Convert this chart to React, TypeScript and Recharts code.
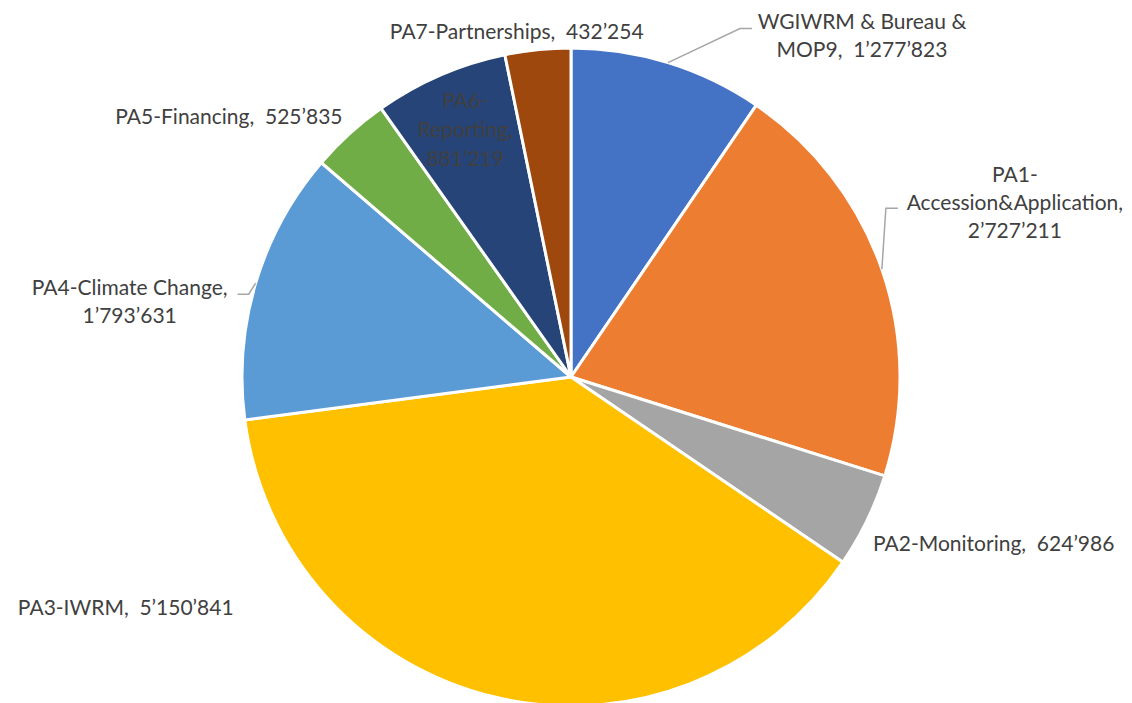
import { PieChart, Pie, Cell } from "recharts";

const categories = [
  "WGIWRM & Bureau & MOP9",
  "PA1-Accession&Application",
  "PA2-Monitoring",
  "PA3-IWRM",
  "PA4-Climate Change",
  "PA5-Financing",
  "PA6-Reporting",
  "PA7-Partnerships",
];
const amounts = [1277823, 2727211, 624986, 5150841, 1793631, 525835, 881219, 432254];
const colors = ["#4472C4", "#ED7D31", "#A5A5A5", "#FFC000", "#5B9BD5", "#70AD47", "#264478", "#9E480E"];

const fmt = (v: number) => String(v).replace(/\B(?=(\d{3})+(?!\d))/g, "\u2019");

// label layout (Excel style), offsets from the slice's outer mid point
type LabelCfg = {
  lines: (v: number) => string[];
  anchor: "start" | "middle" | "end";
  dx: number;
  dy: number[];
  leader?: [number, number][];
};
const labelCfg: LabelCfg[] = [
  { lines: (v) => ["WGIWRM & Bureau &", `MOP9,  ${fmt(v)}`], anchor: "middle", dx: 194, dy: [-42, -14], leader: [[72, -34], [84, -34]] },
  { lines: (v) => ["PA1-", "Accession&Application,", fmt(v)], anchor: "middle", dx: 133, dy: [-96, -68, -40], leader: [[4, -61], [16, -61]] },
  { lines: (v) => [`PA2-Monitoring,  ${fmt(v)}`], anchor: "start", dx: 6, dy: [22] },
  { lines: (v) => [`PA3-IWRM,  ${fmt(v)}`], anchor: "start", dx: -477, dy: [-91] },
  { lines: (v) => ["PA4-Climate Change,", fmt(v)], anchor: "middle", dx: -126, dy: [3, 31], leader: [[-7, 11], [-18, 11]] },
  { lines: (v) => [`PA5-Financing,  ${fmt(v)}`], anchor: "end", dx: -7, dy: [-18] },
  { lines: (v) => ["PA6-", "Reporting,", fmt(v)], anchor: "middle", dx: 25, dy: [24, 53, 82] },
  { lines: (v) => [`PA7-Partnerships,  ${fmt(v)}`], anchor: "middle", dx: -21, dy: [-19] },
];

const data = categories.map((name, i) => ({ name, value: amounts[i] }));

const RADIAN = Math.PI / 180;

const renderLabel = (props: any) => {
  const { cx, cy, midAngle, outerRadius, index, value } = props;
  const ex = cx + outerRadius * Math.cos(-midAngle * RADIAN);
  const ey = cy + outerRadius * Math.sin(-midAngle * RADIAN);
  const cfg = labelCfg[index];
  const lines = cfg.lines(value);
  return (
    <g>
      {cfg.leader && (
        <polyline
          points={[[0, 0], ...cfg.leader].map(([a, b]) => `${ex + a},${ey + b}`).join(" ")}
          fill="none"
          stroke="#A6A6A6"
          strokeWidth={1.5}
        />
      )}
      {lines.map((t, k) => (
        <text
          key={k}
          x={ex + cfg.dx}
          y={ey + cfg.dy[k]}
          textAnchor={cfg.anchor}
          dominantBaseline="central"
          fill="#404040"
          fontSize={21}
          fontFamily="Lato, 'Open Sans', sans-serif"
          style={{ whiteSpace: "pre" }}
        >
          {t}
        </text>
      ))}
    </g>
  );
};

export default function App() {
  return (
    <div style={{ position: "absolute", left: 0, top: 0, width: 1132, height: 703, background: "#fff" }}>
      <PieChart width={1132} height={703} margin={{ top: 0, right: 0, bottom: 0, left: 0 }}>
        <Pie
          data={data}
          dataKey="value"
          nameKey="name"
          cx={571}
          cy={377}
          outerRadius={329}
          startAngle={90}
          endAngle={-270}
          stroke="#ffffff"
          strokeWidth={3}
          label={renderLabel}
          labelLine={false}
          isAnimationActive={false}
        >
          {data.map((d, i) => (
            <Cell key={d.name} fill={colors[i]} />
          ))}
        </Pie>
      </PieChart>
    </div>
  );
}
